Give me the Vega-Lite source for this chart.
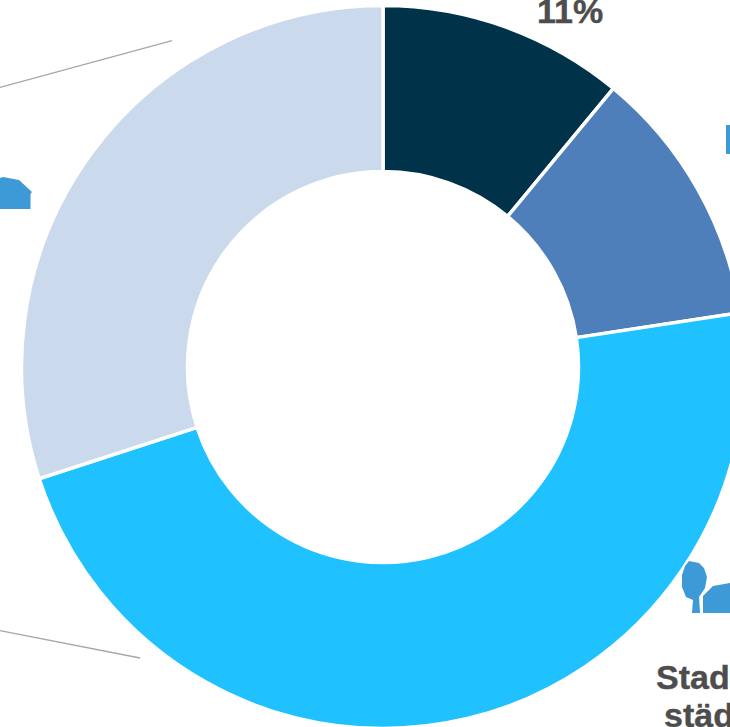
{
"$schema":"https://vega.github.io/schema/vega-lite/v6.json",
"width":766,"height":734,"padding":0,"autosize":{"type":"none"},
"background":"white",
"view":{"stroke":null},
"datasets":{
"slices":[{"segment":"a","order":1,"share":11},{"segment":"b","order":2,"share":11.6},{"segment":"c","order":3,"share":47.4},{"segment":"d","order":4,"share":30}],
"leaders":[{"id":"upper","x":0,"y":87.3},{"id":"upper","x":172,"y":40.7},{"id":"lower","x":0,"y":630.7},{"id":"lower","x":140,"y":658}],
"icons":[{"icon":"house","x":0,"y":0},{"icon":"tree","x":0,"y":0},{"icon":"building","x":0,"y":0},{"icon":"box","x":0,"y":0}],
"labels":[{"text":"11%","x":537,"y":23},{"text":"Stad","x":656,"y":689},{"text":"städ","x":664,"y":727}]
},
"layer":[
{"data":{"name":"slices"},
"mark":{"type":"arc","radius":361.5,"radius2":195.5,"stroke":"white","strokeWidth":3.5},
"encoding":{
"theta":{"field":"share","type":"quantitative","stack":true,"scale":{"domain":[0,100]}},
"order":{"field":"order","type":"ordinal"},
"color":{"field":"segment","type":"nominal","legend":null,"scale":{"domain":["a","b","c","d"],"range":["#003349","#4E7FBB","#20C1FF","#CBD9EC"]}}
}},
{"data":{"name":"leaders"},
"mark":{"type":"line","color":"#A6A6A6","strokeWidth":1.3},
"encoding":{
"x":{"field":"x","type":"quantitative","axis":null,"scale":{"domain":[0,766],"range":[0,766]}},
"y":{"field":"y","type":"quantitative","axis":null,"scale":{"domain":[0,734],"range":[0,734]}},
"detail":{"field":"id"}
}},
{"data":{"name":"icons"},
"mark":{"type":"point","filled":true,"size":4,"opacity":1,"color":"#3E9AD6"},
"encoding":{
"x":{"field":"x","type":"quantitative","axis":null,"scale":{"domain":[0,766],"range":[0,766]}},
"y":{"field":"y","type":"quantitative","axis":null,"scale":{"domain":[0,734],"range":[0,734]}},
"shape":{"field":"icon","type":"nominal","legend":null,"scale":{"domain":["house","tree","building","box"],"range":[
"M0,178L3,177L19,180L32,192L30.5,194L30.5,209L0,209Z",
"M689,561L699,563L704,568L707,577L705,588L699,597L700,613L692,613L693,600L686,597L682,587L682,575L685,566Z",
"M703,613L703,596L713,586L735,582L735,613Z",
"M726,125L740,125L740,154L726,154Z"
]}}
}},
{"data":{"name":"labels"},
"mark":{"type":"text","font":"Liberation Sans","fontWeight":"bold","fontSize":34,"align":"left","baseline":"alphabetic","color":"#4D4D4D","stroke":"#4D4D4D","strokeWidth":0.4},
"encoding":{
"x":{"field":"x","type":"quantitative","axis":null,"scale":{"domain":[0,766],"range":[0,766]}},
"y":{"field":"y","type":"quantitative","axis":null,"scale":{"domain":[0,734],"range":[0,734]}},
"text":{"field":"text"}
}}
]
}
